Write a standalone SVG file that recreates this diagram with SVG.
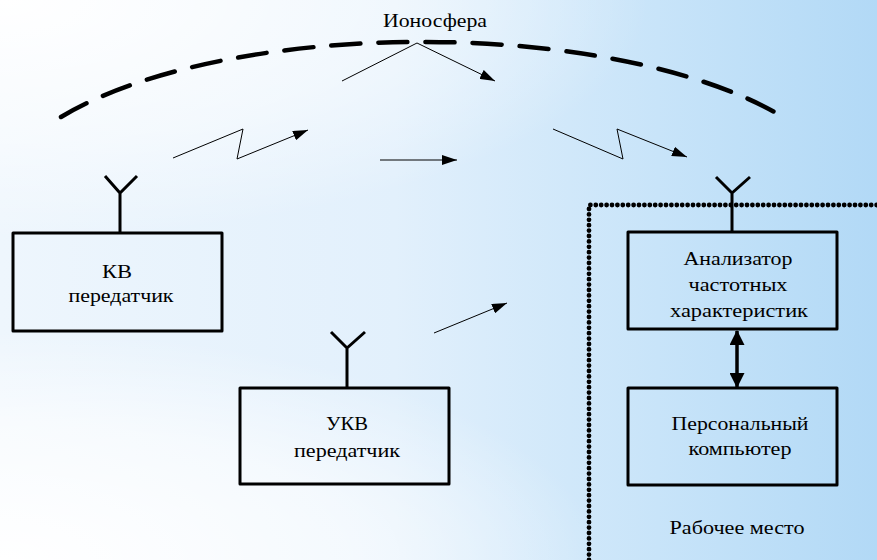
<svg xmlns="http://www.w3.org/2000/svg" width="877" height="560" viewBox="0 0 877 560">
  <defs>
    <linearGradient id="bg" x1="0" y1="0" x2="1" y2="0">
      <stop offset="0" stop-color="#eef6fd"/>
      <stop offset="0.45" stop-color="#e2f0fc"/>
      <stop offset="0.75" stop-color="#c8e4f9"/>
      <stop offset="1" stop-color="#b2d9f6"/>
    </linearGradient>
    <radialGradient id="wtop" cx="0" cy="0" r="1" gradientUnits="userSpaceOnUse" gradientTransform="translate(0,0) scale(650,240)">
      <stop offset="0" stop-color="#ffffff" stop-opacity="1"/>
      <stop offset="0.6" stop-color="#ffffff" stop-opacity="0.5"/>
      <stop offset="1" stop-color="#ffffff" stop-opacity="0"/>
    </radialGradient>
    <radialGradient id="wbot" cx="0" cy="0" r="1" gradientUnits="userSpaceOnUse" gradientTransform="translate(0,560) scale(600,230)">
      <stop offset="0" stop-color="#ffffff" stop-opacity="1"/>
      <stop offset="0.6" stop-color="#ffffff" stop-opacity="0.6"/>
      <stop offset="1" stop-color="#ffffff" stop-opacity="0"/>
    </radialGradient>
    <marker id="ah" markerUnits="userSpaceOnUse" markerWidth="16" markerHeight="10" refX="15" refY="5" orient="auto">
      <path d="M0,0 L15,5 L0,10 Z" fill="#000"/>
    </marker>
    <marker id="big" markerUnits="userSpaceOnUse" markerWidth="15" markerHeight="15" refX="14" refY="7.5" orient="auto-start-reverse">
      <path d="M0,0 L15,7.5 L0,15 Z" fill="#000"/>
    </marker>
    <style>
      .box { fill: none; stroke: #000; stroke-width: 3; stroke-linejoin: round; }
      .ant { fill: none; stroke: #000; stroke-width: 3; stroke-linejoin: miter; }
      .thin { fill: none; stroke: #000; stroke-width: 1; }
      text { font-family: "Liberation Serif", "DejaVu Serif", "Times New Roman", serif; font-size: 19px; fill: #000; text-anchor: middle; }
    </style>
  </defs>

  <rect x="0" y="0" width="877" height="560" fill="url(#bg)"/>
  <rect x="0" y="0" width="877" height="560" fill="url(#wtop)"/>
  <rect x="0" y="0" width="877" height="560" fill="url(#wbot)"/>

  <!-- Ionosphere -->
  <g id="ionosphere">
    <path d="M61,117 A424,158 0 0,1 783,117" fill="none" stroke="#000" stroke-width="4.5" stroke-linecap="round" stroke-dasharray="29 18"/>
    <text x="435" y="27" textLength="104" lengthAdjust="spacingAndGlyphs">Ионосфера</text>
  </g>

  <!-- Work place border -->
  <g id="workplace">
    <path d="M589,560 L589,205 L877,205" fill="none" stroke="#000" stroke-width="4.8" stroke-linecap="round" stroke-dasharray="0 5.4"/>
    <text x="737" y="534" textLength="135" lengthAdjust="spacingAndGlyphs">Рабочее место</text>
  </g>

  <!-- KV transmitter -->
  <g id="kv">
    <rect class="box" x="13" y="233" width="209" height="98"/>
    <path class="ant" d="M105,176 L120,193 L137,176 M120,193 L120,233"/>
    <text x="117" y="278" textLength="30" lengthAdjust="spacingAndGlyphs">КВ</text>
    <text x="121" y="302" textLength="105" lengthAdjust="spacingAndGlyphs">передатчик</text>
  </g>

  <!-- UKV transmitter -->
  <g id="ukv">
    <rect class="box" x="240" y="388" width="209" height="96"/>
    <path class="ant" d="M331,332 L347,348 L365,332 M347,348 L347,388"/>
    <text x="347" y="430" textLength="42" lengthAdjust="spacingAndGlyphs">УКВ</text>
    <text x="347" y="457" textLength="106" lengthAdjust="spacingAndGlyphs">передатчик</text>
  </g>

  <!-- Analyzer -->
  <g id="analyzer">
    <rect class="box" x="628" y="232" width="209" height="97"/>
    <path class="ant" d="M716,177 L732,193 L750,177 M732,193 L732,232"/>
    <text x="738" y="265" textLength="109" lengthAdjust="spacingAndGlyphs">Анализатор</text>
    <text x="738" y="291" textLength="99" lengthAdjust="spacingAndGlyphs">частотных</text>
    <text x="739" y="317" textLength="138" lengthAdjust="spacingAndGlyphs">характеристик</text>
  </g>

  <!-- PC -->
  <g id="pc">
    <rect class="box" x="628" y="388" width="209" height="97"/>
    <text x="740" y="430" textLength="137" lengthAdjust="spacingAndGlyphs">Персональный</text>
    <text x="740" y="455" textLength="103" lengthAdjust="spacingAndGlyphs">компьютер</text>
  </g>

  <!-- Connectors / signals -->
  <g id="connectors">
    <line class="thin" x1="417" y1="43" x2="342" y2="81"/>
    <line class="thin" x1="417" y1="43" x2="495" y2="81" marker-end="url(#ah)"/>
    <polyline class="thin" points="173,158 243,129 237,159 308,130" marker-end="url(#ah)"/>
    <line class="thin" x1="380" y1="160" x2="457" y2="160" marker-end="url(#ah)"/>
    <polyline class="thin" points="553,129 623,159 617,129 687,157" marker-end="url(#ah)"/>
    <line class="thin" x1="434" y1="333" x2="507" y2="303" marker-end="url(#ah)"/>
    <line x1="737" y1="331" x2="737" y2="387" stroke="#000" stroke-width="3.5" marker-start="url(#big)" marker-end="url(#big)"/>
  </g>
</svg>
